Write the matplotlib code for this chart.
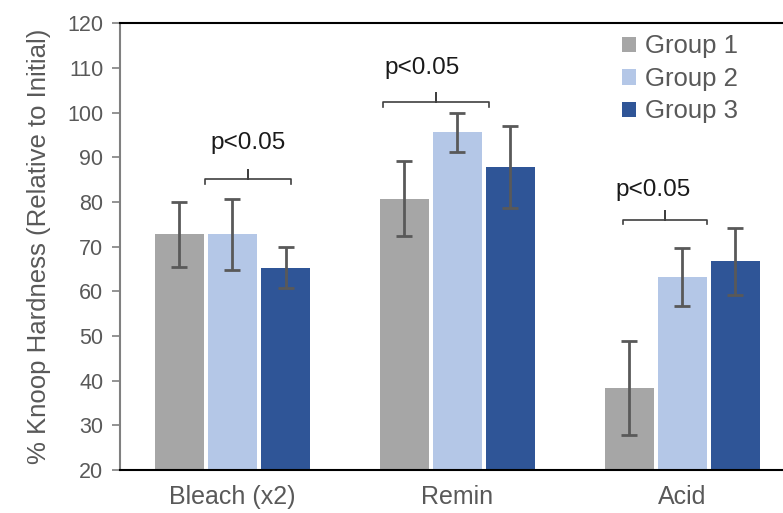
import matplotlib
matplotlib.use('Agg')
import matplotlib.pyplot as plt
import numpy as np

plt.rcParams['font.family'] = ['Liberation Sans', 'DejaVu Sans']

categories = ['Bleach (x2)', 'Remin', 'Acid']
groups = ['Group 1', 'Group 2', 'Group 3']
means = [
    [72.8, 80.7, 38.3],
    [72.8, 95.6, 63.3],
    [65.3, 87.9, 66.7],
]
errors = [
    [7.3, 8.4, 10.5],
    [8.0, 4.4, 6.5],
    [4.6, 9.2, 7.5],
]
colors = ['#A6A6A6', '#B4C7E7', '#2F5597']

# significance brackets: (left, right, height), label position
brackets = [(-0.124, 0.261, 85.1), (0.668, 1.142, 102.4), (1.735, 2.110, 76.1)]
label_pos = [(0.069, 93.2), (0.844, 110.0), (1.871, 82.6)]
sig_text = 'p<0.05'

text_gray = '#595959'

fig = plt.figure(figsize=(7.83, 5.13), dpi=100)
ax = fig.add_axes([0.1533, 0.0838, 0.8614, 0.8704])

x = np.arange(len(categories))
step = 0.236
width = 0.218
for i, g in enumerate(groups):
    ax.bar(x + (i - 1) * step, means[i], width, color=colors[i], label=g,
           edgecolor='none', zorder=2)
    ax.errorbar(x + (i - 1) * step, means[i], yerr=errors[i], fmt='none',
                ecolor=text_gray, elinewidth=2, capsize=6, capthick=2, zorder=3)

for (x0, x1, y), (tx, ty) in zip(brackets, label_pos):
    xm = (x0 + x1) / 2
    ax.plot([x0, x0, xm, xm, xm, x1, x1],
            [y - 1.1, y, y, y + 2.0, y, y, y - 1.1],
            color='#404040', lw=1.2, solid_joinstyle='round', zorder=4)
    ax.text(tx, ty, sig_text, ha='center', va='center', fontsize=17.5,
            color='#1a1a1a')

ax.set_xlim(-0.5, 2.5)
ax.set_ylim(20, 120)
ax.set_yticks(np.arange(20, 121, 10))
ax.set_xticks(x)
ax.set_xticklabels(categories, fontsize=18, color=text_gray)
ax.tick_params(axis='x', length=0, pad=11)
ax.tick_params(axis='y', direction='out', length=6, width=1.2,
               color='#808080', labelsize=15.5, labelcolor=text_gray, pad=6)
ax.set_ylabel('% Knoop Hardness (Relative to Initial)', fontsize=18.5,
              color=text_gray, labelpad=12)

ax.spines['right'].set_visible(False)
ax.spines['left'].set_color('#808080')
ax.spines['left'].set_linewidth(1.5)
ax.spines['top'].set_color('black')
ax.spines['top'].set_linewidth(1.5)
ax.spines['bottom'].set_color('black')
ax.spines['bottom'].set_linewidth(1.5)

leg = ax.legend(loc='upper left', bbox_to_anchor=(0.778, 0.958),
                bbox_transform=fig.transFigure, frameon=False, fontsize=18.5,
                handlelength=0.55, handleheight=0.55, handletextpad=0.35,
                labelspacing=0.33, borderpad=0)
for t in leg.get_texts():
    t.set_color(text_gray)

fig.savefig('out.png', dpi=100)
